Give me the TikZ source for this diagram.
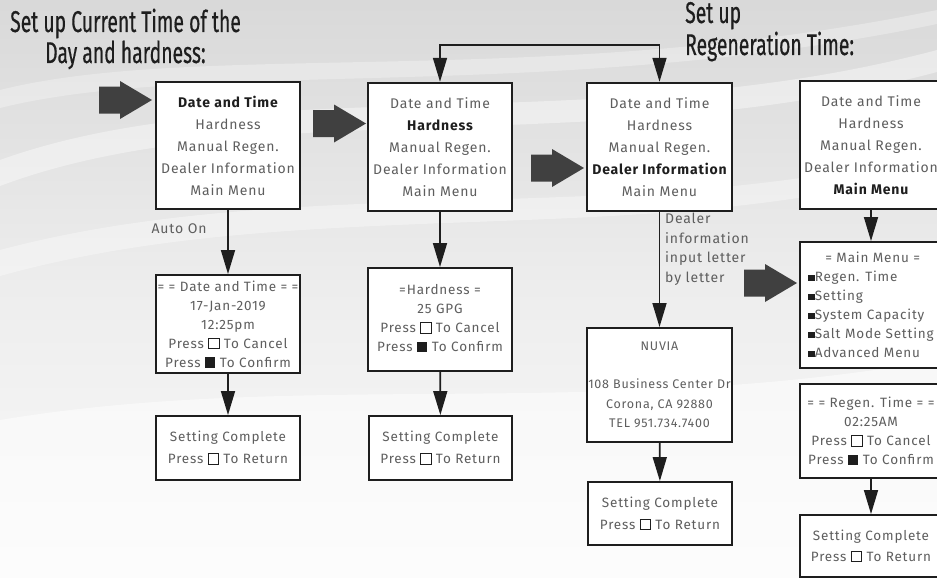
\documentclass[tikz,border=0pt]{standalone}
\usepackage{fontspec}
\setmainfont[LetterSpace=6]{Fira Sans}
\newfontfamily\titlefont[FakeStretch=0.645,FakeBold=0.4]{Fira Sans}
\usetikzlibrary{arrows.meta}
\definecolor{txtgray}{HTML}{5E5E5E}
\definecolor{darkarrow}{HTML}{404040}
\definecolor{ink}{HTML}{1E1E1E}
\newcommand{\esq}{{\color{ink}\setlength\fboxsep{0pt}\setlength\fboxrule{0.9pt}\fbox{\rule{0pt}{9.5pt}\hspace{9.5pt}}}}
\newcommand{\fsq}{{\color{ink}\rule[-0.5pt]{10.5pt}{10.5pt}}}
\newcommand{\msq}{{\color{ink}\rule[0.5pt]{6.5pt}{6.5pt}}}
\newcommand{\bt}[1]{{\color{ink}\bfseries #1}}
\tikzset{
  box/.style={draw=ink, fill=white, line width=2.4pt, align=center, text=txtgray,
    font=\fontsize{14}{22}\selectfont, inner sep=0pt},
  sub/.style={box, line width=1.9pt, font=\fontsize{13.5}{19}\selectfont},
  conn/.style={draw=ink, line width=1.6pt, -{Triangle[width=14pt,length=24pt]}},
  lbl/.style={text=txtgray, font=\fontsize{14}{19.5}\selectfont, inner sep=0pt},
  ttl/.style={text=ink, font=\titlefont\fontsize{30}{32}\selectfont, inner sep=0pt, anchor=base west},
  blockarrow/.pic={\fill[darkarrow] (-53,-13.5) -- (-32,-13.5) -- (-32,-19) -- (0,0) -- (-32,19) -- (-32,13.5) -- (-53,13.5) -- cycle;}
}
\begin{document}
\begin{tikzpicture}[x=1pt,y=-1pt]
\useasboundingbox (0,0) rectangle (937,578);
% background
\shade[top color=black!15, bottom color=black!2, middle color=black!7] (0,0) rectangle (937,578);
\fill[white, opacity=0.4] (0,160) .. controls (250,70) and (600,140) .. (937,50) -- (937,72) .. controls (600,162) and (250,92) .. (0,186) -- cycle;
\fill[white, opacity=0.35] (0,250) .. controls (300,170) and (650,230) .. (937,150) -- (937,168) .. controls (650,252) and (300,192) .. (0,276) -- cycle;
\fill[white, opacity=0.3] (0,90) .. controls (200,40) and (550,90) .. (937,10) -- (937,24) .. controls (550,104) and (200,58) .. (0,108) -- cycle;
\fill[white, opacity=0.5] (0,420) .. controls (300,370) and (600,420) .. (937,360) -- (937,578) -- (0,578) -- cycle;

% titles
\node[ttl] (t1a) at (10,32) {Set up Current Time of the};
\node[ttl] (t1b) at (45,63) {Day and hardness:};
\node[ttl] (t2a) at (685,23) {Set up};
\node[ttl] (t2b) at (685,55) {Regeneration Time:};

% column 1
\node[box, minimum width=144pt, minimum height=127pt] (b1) at (228,145.5)
  {\bt{Date and Time}\\Hardness\\Manual Regen.\\Dealer Information\\Main Menu};
\node[sub, minimum width=144pt, minimum height=98pt] (b1b) at (228,324)
  {= = Date and Time = =\\17-Jan-2019\\12:25pm\\Press \esq\ To Cancel\\Press \fsq\ To Confirm};
\node[sub, minimum width=144pt, minimum height=64pt, font=\fontsize{13.5}{22}\selectfont] (b1c) at (228,448)
  {Setting Complete\\Press \esq\ To Return};

% column 2
\node[box, minimum width=144pt, minimum height=128pt] (b2) at (440,147)
  {Date and Time\\\bt{Hardness}\\Manual Regen.\\Dealer Information\\Main Menu};
\node[sub, minimum width=144pt, minimum height=103pt] (b2b) at (440,319.5)
  {\raisebox{5pt}{\begin{tabular}{@{}c@{}}=Hardness =\\25 GPG\\Press \esq\ To Cancel\\Press \fsq\ To Confirm\end{tabular}}};
\node[sub, minimum width=143pt, minimum height=64pt, font=\fontsize{13.5}{22}\selectfont] (b2c) at (440.5,448)
  {Setting Complete\\Press \esq\ To Return};

% column 3
\node[box, minimum width=145pt, minimum height=128pt] (b3) at (659.5,147)
  {Date and Time\\Hardness\\Manual Regen.\\\bt{Dealer Information}\\Main Menu};
\node[sub, minimum width=145pt, minimum height=114pt, font=\fontsize{12.5}{19.5}\selectfont] (b3b) at (659.5,385)
  {NUVIA\\[19pt]108 Business Center Dr\\Corona, CA 92880\\TEL 951.734.7400};
\node[sub, minimum width=144pt, minimum height=63pt, font=\fontsize{13.5}{22}\selectfont] (b3c) at (660,513.5)
  {Setting Complete\\Press \esq\ To Return};

% column 4
\node[box, minimum width=142pt, minimum height=128pt] (b4) at (871,145)
  {Date and Time\\Hardness\\Manual Regen.\\Dealer Information\\\bt{Main Menu}};
\node[sub, minimum width=142pt, minimum height=126pt, align=left] (b4b) at (871,305)
  {\hspace*{17pt}= Main Menu =\\\msq Regen. Time\\\msq Setting\\\msq System Capacity\\\msq Salt Mode Setting\\\msq Advanced Menu};
\node[sub, minimum width=142pt, minimum height=94pt] (b4c) at (871,431)
  {= = Regen. Time = =\\02:25AM\\Press \esq\ To Cancel\\Press \fsq\ To Confirm};
\node[sub, minimum width=142pt, minimum height=62pt, font=\fontsize{13.5}{21}\selectfont] (b4d) at (871,546)
  {Setting Complete\\Press \esq\ To Return};

% labels
\node[lbl] (auto) at (179,229) {Auto On};
\node[lbl, anchor=north west, align=left] (dealer) at (665,213) {Dealer\\information\\input letter\\by letter};

% connectors
\draw[conn] (b1) -- (b1b);
\draw[conn] (b1b) -- (b1c);
\draw[conn] (b2) -- (b2b);
\draw[conn] (b2b) -- (b2c);
\draw[conn] (b3) -- (b3b);
\draw[conn] (b3b) -- (b3c);
\draw[conn] (b4) -- (b4b);
\draw[conn] (b4c) -- (b4d);
\draw[conn, {Triangle[width=14pt,length=24pt]}-{Triangle[width=14pt,length=24pt]}] (b2.north) -- ++(0,-37) -| (b3.north);

% block arrows
\pic at (152,100) {blockarrow};
\pic at (366,123.5) {blockarrow};
\pic at (584,168) {blockarrow};
\pic at (797,283) {blockarrow};
\end{tikzpicture}
\end{document}
